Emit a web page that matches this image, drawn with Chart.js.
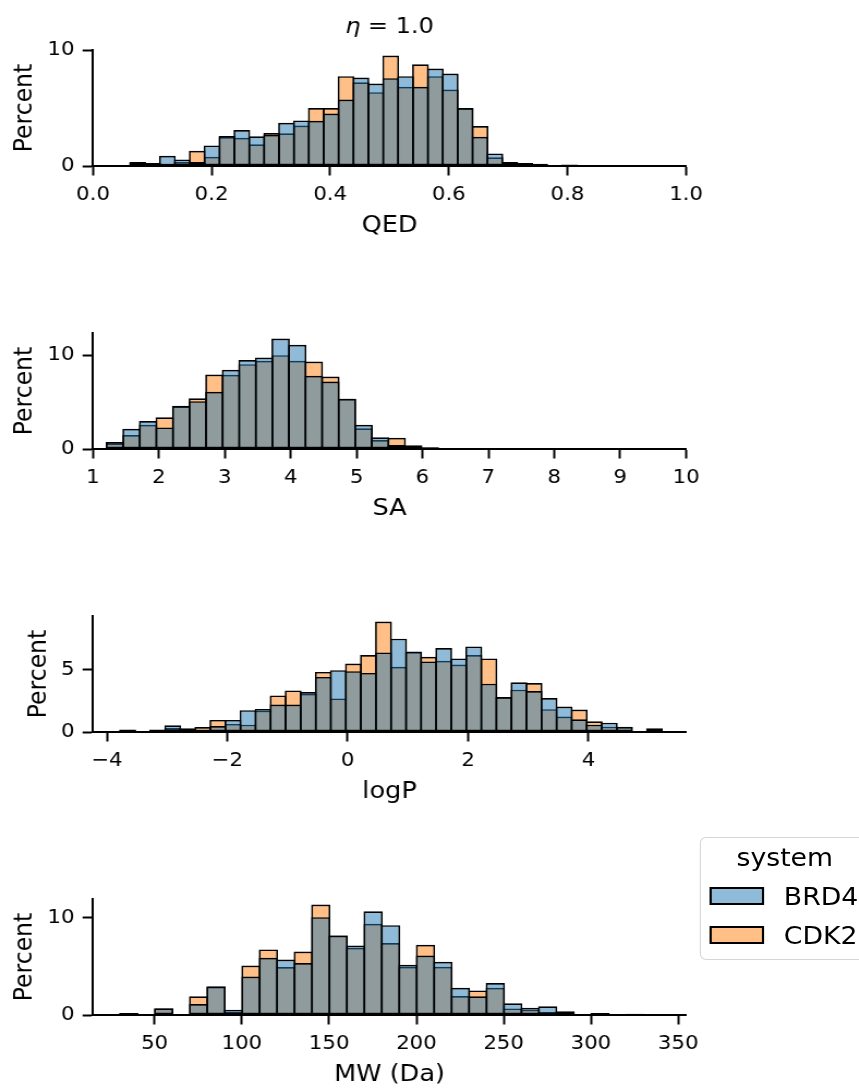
<!DOCTYPE html>
<html>
<head>
<meta charset="utf-8">
<script src="https://cdn.jsdelivr.net/npm/chart.js@4.4.1/dist/chart.umd.min.js"></script>
<style>
  html, body { margin: 0; padding: 0; background: #fff; }
  body { width: 859px; height: 1089px; overflow: hidden; position: relative; font-family: "DejaVu Sans", sans-serif; color: #000; }
  /* the figure is laid out 788px wide and widened to the page width */
  #figure { position: absolute; left: 0; top: 0; width: 788px; height: 1089px; transform: scaleX(1.09); transform-origin: 0 0; }
  canvas { position: absolute; left: 0; }
  #legend { position: absolute; left: 641.5px; top: 837px; width: 157px; height: 123px; box-sizing: border-box;
            border: 1.5px solid #d6d6d6; border-radius: 6px; background: #fff; }
  #legend .t { position: absolute; left: 0; width: 100%; text-align: center; font-size: 24.5px; line-height: 24.5px; white-space: nowrap; }
  #legend .sw { position: absolute; left: 8.7px; width: 49.5px; height: 18px; box-sizing: border-box; border: 2px solid #000; }
  #legend .lb { position: absolute; left: 76.6px; font-size: 24.5px; line-height: 24.5px; white-space: nowrap; }
</style>
</head>
<body>
<div id="figure">
  <canvas id="pQED" width="788" height="246" style="top:0px"></canvas>
  <canvas id="pSA" width="788" height="236" style="top:293px"></canvas>
  <canvas id="pLogP" width="788" height="236" style="top:576px"></canvas>
  <canvas id="pMW" width="788" height="236" style="top:859px"></canvas>
  <div id="legend"></div>
</div>
<script>
// ---- series ----
const seriesNames = ['BRD4', 'CDK2'];
const seriesColors = ['rgba(31,119,180,0.5)', 'rgba(255,127,14,0.5)'];
const legendTitle = 'system';

// ---- QED histogram (bin centres, percent per system) ----
const qedBins = [0.0753, 0.1004, 0.1255, 0.1506, 0.1757, 0.2008, 0.2259, 0.2510, 0.2761, 0.3012,
                 0.3263, 0.3514, 0.3765, 0.4016, 0.4267, 0.4518, 0.4769, 0.5020, 0.5271, 0.5522,
                 0.5773, 0.6024, 0.6275, 0.6526, 0.6777, 0.7028, 0.7279, 0.7530, 0.7781, 0.8032];
const qedBRD4 = [0.30, 0.20, 0.89, 0.57, 0.34, 1.78, 2.60, 3.10, 2.56, 2.70,
                 3.74, 3.94, 3.90, 4.54, 5.75, 7.64, 7.13, 7.59, 7.76, 6.84,
                 8.42, 7.99, 5.00, 2.53, 1.09, 0.34, 0.20, 0.15, 0.00, 0.00];
const qedCDK2 = [0.35, 0.25, 0.14, 0.37, 1.32, 0.80, 2.50, 2.44, 1.87, 2.85,
                 2.82, 3.50, 5.00, 5.00, 7.76, 7.24, 6.38, 9.54, 6.84, 8.79,
                 7.76, 6.61, 5.00, 3.45, 0.75, 0.17, 0.25, 0.20, 0.00, 0.12];
const qedTicks = [0.0, 0.2, 0.4, 0.6, 0.8, 1.0];
const qedTickLabels = ['0.0', '0.2', '0.4', '0.6', '0.8', '1.0'];
const qedYTicks = [0, 10];

// ---- SA histogram ----
const saBins = [1.333, 1.585, 1.836, 2.088, 2.339, 2.591, 2.842, 3.094, 3.345, 3.597, 3.848,
                4.100, 4.351, 4.603, 4.854, 5.106, 5.357, 5.609, 5.860, 6.112, 6.363];
const saBRD4 = [0.75, 2.16, 2.98, 2.30, 4.60, 5.10, 6.10, 8.44, 9.47, 9.75, 11.77,
                11.10, 7.80, 7.20, 5.35, 2.59, 1.24, 0.43, 0.39, 0.18, 0.10];
const saCDK2 = [0.60, 1.49, 2.59, 3.37, 4.55, 5.40, 7.94, 7.90, 9.04, 9.40, 10.00,
                9.40, 9.33, 7.73, 5.35, 2.20, 0.96, 1.20, 0.18, 0.15, 0.08];
const saTicks = [1, 2, 3, 4, 5, 6, 7, 8, 9, 10];
const saTickLabels = ['1', '2', '3', '4', '5', '6', '7', '8', '9', '10'];
const saYTicks = [0, 10];

// ---- logP histogram ----
const logpBins = [-3.655, -3.405, -3.155, -2.905, -2.655, -2.405, -2.155, -1.905, -1.655, -1.405,
                  -1.155, -0.905, -0.655, -0.405, -0.155, 0.095, 0.345, 0.595, 0.845, 1.095,
                  1.345, 1.595, 1.845, 2.095, 2.345, 2.595, 2.845, 3.095, 3.345, 3.595,
                  3.845, 4.095, 4.345, 4.595, 4.845, 5.095];
const logpBRD4 = [0.20, 0.05, 0.20, 0.54, 0.25, 0.19, 0.48, 0.97, 1.75, 1.85,
                  2.20, 2.20, 3.20, 4.41, 4.95, 4.87, 4.73, 6.37, 7.47, 6.45,
                  5.65, 6.72, 5.89, 6.85, 3.87, 2.80, 3.98, 3.28, 2.72, 2.04,
                  1.02, 0.59, 0.75, 0.43, 0.00, 0.00];
const logpCDK2 = [0.15, 0.05, 0.10, 0.32, 0.30, 0.40, 0.97, 0.65, 0.59, 1.72,
                  2.93, 3.33, 3.06, 4.81, 2.69, 5.48, 6.16, 8.84, 5.22, 6.40,
                  6.02, 5.70, 5.40, 6.16, 5.89, 2.80, 3.39, 3.92, 1.83, 1.24,
                  1.80, 0.86, 0.43, 0.40, 0.00, 0.30];
const logpTicks = [-4, -2, 0, 2, 4];
const logpTickLabels = ['\u22124', '\u22122', '0', '2', '4'];
const logpYTicks = [0, 5];

// ---- MW histogram ----
const mwBins = [35.2, 45.2, 55.2, 65.2, 75.2, 85.2, 95.2, 105.2, 115.2, 125.2, 135.2,
                145.2, 155.2, 165.2, 175.2, 185.2, 195.2, 205.2, 215.2, 225.2, 235.2,
                245.2, 255.2, 265.2, 275.2, 285.2, 295.2, 305.2, 315.2, 325.2, 335.2];
const mwBRD4 = [0.20, 0.05, 0.70, 0.10, 1.13, 2.95, 0.55, 3.97, 5.89, 5.72, 5.34,
                10.07, 8.18, 7.16, 10.68, 9.25, 5.17, 6.13, 5.48, 2.81, 1.92,
                3.29, 1.20, 0.75, 0.89, 0.38, 0.00, 0.20, 0.00, 0.12, 0.10];
const mwCDK2 = [0.15, 0.05, 0.68, 0.10, 1.92, 2.90, 0.35, 5.10, 6.75, 4.93, 6.54,
                11.37, 8.18, 6.92, 9.38, 7.40, 4.97, 7.23, 4.97, 1.95, 2.53,
                2.81, 0.68, 0.55, 0.31, 0.30, 0.00, 0.15, 0.00, 0.10, 0.10];
const mwTicks = [50, 100, 150, 200, 250, 300, 350];
const mwTickLabels = ['50', '100', '150', '200', '250', '300', '350'];
const mwYTicks = [0, 10];

const titleSymbol = '\u03B7';
const titleRest = ' = 1.0';
const yTitle = 'Percent';

// ---- drawing ----
const FONT = "'DejaVu Sans', sans-serif";
Chart.defaults.font.family = FONT;
Chart.defaults.color = '#000';

const EDGE = 1.7;          // bar outline width
const TICK_FONT = 19.5;
const LABEL_FONT = 23.5;
const TITLE_FONT = 22;

const titlePlugin = {
  id: 'panelTitle',
  afterDraw(chart) {
    const ctx = chart.ctx, a = chart.chartArea;
    const cx = (a.left + a.right) / 2;
    const y = a.top - 17;
    ctx.save();
    ctx.fillStyle = '#000';
    ctx.textBaseline = 'alphabetic';
    ctx.font = 'italic ' + TITLE_FONT + 'px ' + FONT;
    const w1 = ctx.measureText(titleSymbol).width;
    ctx.font = TITLE_FONT + 'px ' + FONT;
    const w2 = ctx.measureText(titleRest).width;
    const x = cx - (w1 + w2) / 2;
    ctx.font = 'italic ' + TITLE_FONT + 'px ' + FONT;
    ctx.fillText(titleSymbol, x, y);
    ctx.font = TITLE_FONT + 'px ' + FONT;
    ctx.fillText(titleRest, x + w1, y);
    ctx.restore();
  }
};

// neighbouring bars share one outline: each bar is widened by one edge width
function histDataset(label, color, bins, values, overlap) {
  return {
    label,
    data: bins.map((x, i) => ({ x, y: values[i] })),
    backgroundColor: color,
    borderColor: '#000',
    borderWidth: EDGE,
    borderSkipped: false,
    grouped: false,
    barPercentage: overlap,
    categoryPercentage: 1
  };
}

function makePanel(id, p) {
  new Chart(document.getElementById(id), {
    type: 'bar',
    data: {
      datasets: [
        histDataset(seriesNames[0], seriesColors[0], p.bins, p.a, p.overlap),
        histDataset(seriesNames[1], seriesColors[1], p.bins, p.b, p.overlap)
      ]
    },
    options: {
      responsive: false,
      animation: false,
      events: [],
      layout: { padding: { top: p.padTop, left: 0, right: 158.6, bottom: 0 } },
      plugins: { legend: { display: false }, tooltip: { enabled: false } },
      scales: {
        x: {
          type: 'linear',
          min: p.xMin, max: p.xMax,
          offset: false,
          afterBuildTicks: ax => { ax.ticks = p.xTicks.map(v => ({ value: v })); },
          afterFit: ax => { ax.height = 80; },
          ticks: {
            autoSkip: false, maxRotation: 0, minRotation: 0, padding: 7.5, color: '#000',
            font: { size: TICK_FONT },
            callback: (v, i) => p.xLabels[i]
          },
          grid: { display: true, drawOnChartArea: false, drawTicks: true, offset: false,
                  tickLength: 9.5, tickWidth: 2, tickColor: '#000', color: '#000' },
          border: { display: true, color: '#000', width: 2, z: 1 },
          title: { display: true, text: p.xTitle, color: '#000', font: { size: LABEL_FONT },
                   padding: { top: 0, bottom: 6 } }
        },
        y: {
          min: 0, max: p.yMax,
          afterBuildTicks: ax => { ax.ticks = p.yTicks.map(v => ({ value: v })); },
          afterFit: ax => { ax.width = 85.3; },
          ticks: { autoSkip: false, padding: 7.5, color: '#000', font: { size: TICK_FONT },
                   callback: v => String(v) },
          grid: { display: true, drawOnChartArea: false, drawTicks: true,
                  tickLength: 9.5, tickWidth: 2, tickColor: '#000', color: '#000' },
          border: { display: true, color: '#000', width: 2, z: 1 },
          title: { display: true, text: yTitle, color: '#000', font: { size: LABEL_FONT },
                   padding: { top: p.yTitlePad, bottom: 0 } }
        }
      }
    },
    plugins: p.plugins || []
  });
}

makePanel('pQED', { bins: qedBins, a: qedBRD4, b: qedCDK2, xMin: 0, xMax: 1, yMax: 10.02,
  xTicks: qedTicks, xLabels: qedTickLabels, yTicks: qedYTicks, xTitle: 'QED',
  padTop: 50, yTitlePad: 9, overlap: 1.124, plugins: [titlePlugin] });
makePanel('pSA', { bins: saBins, a: saBRD4, b: saCDK2, xMin: 1, xMax: 10, yMax: 12.36,
  xTicks: saTicks, xLabels: saTickLabels, yTicks: saYTicks, xTitle: 'SA',
  padTop: 40, yTitlePad: 9, overlap: 1.112 });
makePanel('pLogP', { bins: logpBins, a: logpBRD4, b: logpCDK2, xMin: -4.23, xMax: 5.62, yMax: 9.28,
  xTicks: logpTicks, xLabels: logpTickLabels, yTicks: logpYTicks, xTitle: 'logP',
  padTop: 40, yTitlePad: 21.3, overlap: 1.123 });
makePanel('pMW', { bins: mwBins, a: mwBRD4, b: mwCDK2, xMin: 14.7, xMax: 354.5, yMax: 11.94,
  xTicks: mwTicks, xLabels: mwTickLabels, yTicks: mwYTicks, xTitle: 'MW (Da)',
  padTop: 40, yTitlePad: 9, overlap: 1.106 });

// ---- legend ----
const legend = document.getElementById('legend');
const lt = document.createElement('div');
lt.className = 't';
lt.style.top = '8px';
lt.textContent = legendTitle;
legend.appendChild(lt);
seriesNames.forEach((name, i) => {
  const sw = document.createElement('div');
  sw.className = 'sw';
  sw.style.top = (49.2 + i * 39) + 'px';
  sw.style.background = seriesColors[i];
  legend.appendChild(sw);
  const lb = document.createElement('div');
  lb.className = 'lb';
  lb.style.top = (46.8 + i * 39) + 'px';
  lb.textContent = name;
  legend.appendChild(lb);
});
</script>
</body>
</html>
